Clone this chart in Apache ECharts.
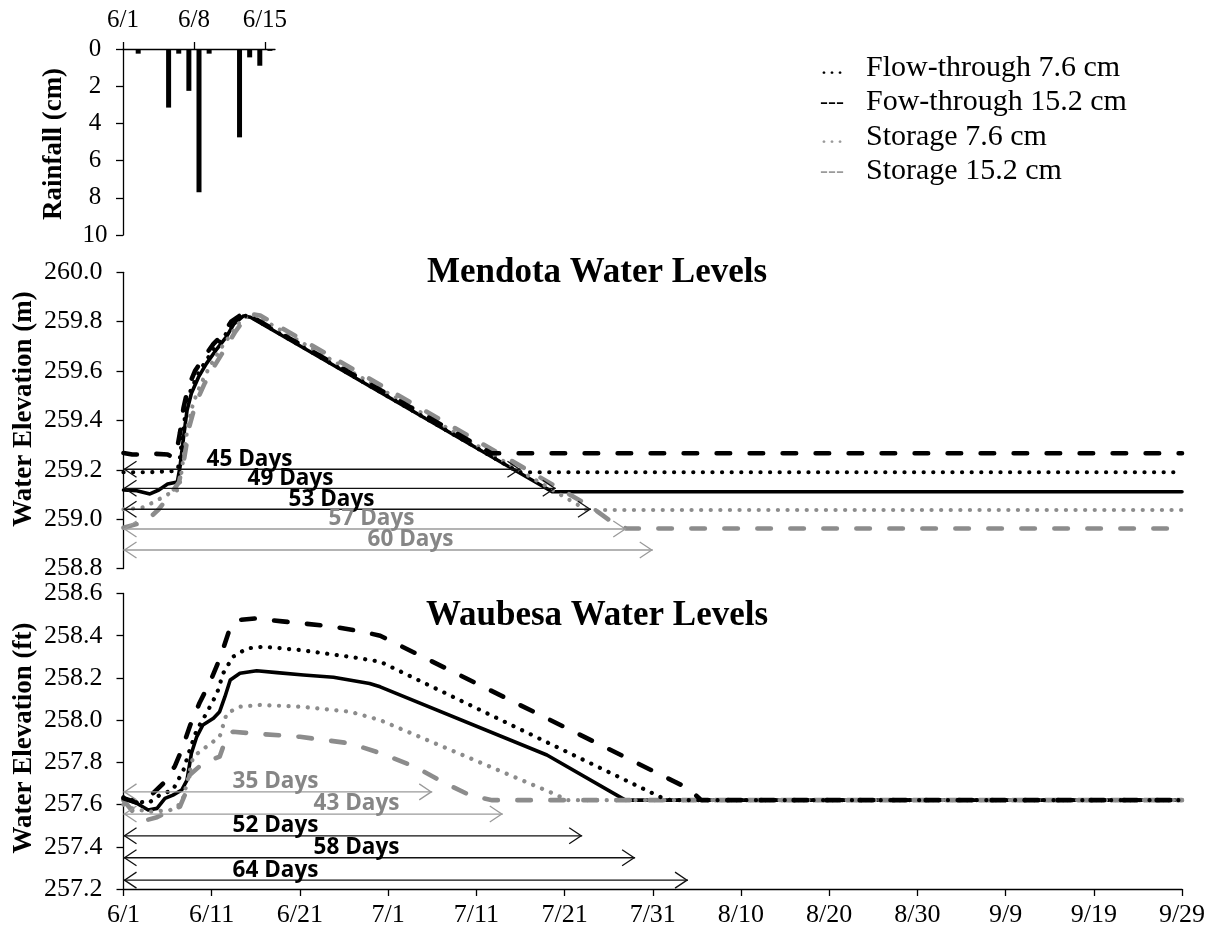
<!DOCTYPE html>
<html>
<head>
<meta charset="utf-8">
<script src="https://cdn.jsdelivr.net/npm/echarts@6/dist/echarts.min.js"></script>
<style>
  html, body { margin: 0; padding: 0; background: #fff; }
  #chart { width: 1215px; height: 934px; }
</style>
</head>
<body>
<div id="chart"></div>
<script>
// ---- Rainfall, 6/1 to 6/15 (cm per day) ----
const rainDates = ['6/1','6/2','6/3','6/4','6/5','6/6','6/7','6/8','6/9','6/10','6/11','6/12','6/13','6/14','6/15'];
const rainCm = [0, 0.25, 0.05, 0, 3.15, 0.25, 2.25, 7.7, 0.25, 0, 0, 4.75, 0.45, 0.9, 0.1];
const rainTickDays = [0, 7, 14];

// ---- Season axis: days after 6/1, labelled every 10 days ----
const seasonTicks = ['6/1','6/11','6/21','7/1','7/11','7/21','7/31','8/10','8/20','8/30','9/9','9/19','9/29'];

// ---- Legend entries ----
const legendNames = ['Flow-through 7.6 cm', 'Fow-through 15.2 cm', 'Storage 7.6 cm', 'Storage 15.2 cm'];

// ---- Lake Mendota water level (m) as [day after 6/1, elevation] ----
const mendotaBase = [[0,259.118],[1.5,259.115],[3,259.102],[4,259.118],[5,259.142],[6.1,259.15],[6.4,259.21],[6.8,259.33],[7.2,259.44],[7.7,259.51],[8.5,259.575],[9.4,259.63],[10.6,259.69],[11.7,259.74],[12.5,259.79],[13.6,259.823],[14.4,259.818],[48.6,259.111],[120,259.111]];
const mendotaFlow76 = [[0,259.19],[3,259.19],[6,259.195],[6.3,259.22],[6.7,259.34],[7.1,259.45],[7.6,259.52],[8.4,259.585],[9.3,259.64],[10.5,259.70],[11.6,259.75],[12.4,259.795],[13.5,259.826],[14.4,259.82],[44.8,259.19],[120,259.19]];
const mendotaFlow152 = [[0,259.268],[1,259.262],[2,259.262],[3.5,259.265],[5,259.262],[5.6,259.25],[6.0,259.27],[6.4,259.35],[6.8,259.45],[7.3,259.53],[8.1,259.6],[9,259.65],[10.2,259.71],[11.3,259.75],[12.2,259.8],[13.4,259.83],[14.4,259.822],[41.7,259.267],[120,259.267]];
const mendotaStore76 = [[0,259.04],[2,259.045],[3.5,259.07],[5,259.1],[6.3,259.12],[6.8,259.25],[7.3,259.38],[7.9,259.47],[8.8,259.55],[9.8,259.62],[11,259.69],[12.2,259.75],[13.2,259.8],[14.2,259.828],[15,259.825],[52.5,259.037],[120,259.037]];
const mendotaStore152 = [[0,258.965],[2.5,258.99],[4,259.04],[5.3,259.1],[6.3,259.15],[6.9,259.25],[7.5,259.38],[8.2,259.47],[9.2,259.55],[10.3,259.62],[11.5,259.69],[12.6,259.755],[13.6,259.805],[14.6,259.83],[15.5,259.825],[53,259.05],[55.5,258.985],[57,258.962],[120,258.962]];

// ---- Lake Waubesa water level (ft axis) ----
const waubesaBase = [[0,257.63],[1.5,257.606],[2.8,257.574],[3.8,257.582],[4.7,257.629],[5.6,257.645],[6.6,257.669],[7.2,257.716],[7.7,257.843],[8.3,257.921],[9,257.977],[10.2,258.009],[10.9,258.04],[11.5,258.111],[12.1,258.19],[13.2,258.222],[15.1,258.234],[17.4,258.225],[20.4,258.214],[23.8,258.203],[27.9,258.174],[29.1,258.158],[48,257.835],[56.9,257.621],[120,257.621]];
const waubesaFlow76 = [[0,257.635],[1.9,257.613],[2.8,257.606],[4.1,257.645],[5.6,257.669],[6.8,257.764],[7.5,257.858],[8.3,257.953],[9.4,258.032],[10.6,258.127],[11.3,258.222],[12.4,258.30],[14,258.34],[15.9,258.348],[20,258.332],[25.7,258.30],[29.1,258.277],[60.8,257.637],[62,257.621],[120,257.621]];
const waubesaFlow152 = [[0,257.63],[1.5,257.61],[3,257.64],[4.5,257.70],[5.8,257.78],[6.6,257.86],[7.6,257.98],[8.6,258.08],[9.8,258.18],[11,258.3],[12.1,258.44],[13.2,258.475],[15,258.482],[18,258.468],[23.8,258.443],[27,258.42],[29.1,258.40],[64,257.677],[65.5,257.621],[120,257.621]];
const waubesaStore76 = [[0,257.6],[1.1,257.58],[3,257.566],[5.3,257.574],[6.6,257.606],[7.3,257.72],[7.9,257.827],[9.4,257.874],[10.9,257.921],[11.7,258.032],[13.2,258.064],[15.5,258.072],[20,258.064],[25.7,258.04],[29.1,258.0],[48.7,257.653],[50.3,257.621],[120,257.621]];
const waubesaStore152 = [[0,257.62],[1.2,257.56],[2.5,257.525],[3.8,257.54],[5,257.565],[6.4,257.59],[7,257.65],[7.5,257.74],[9,257.795],[10.9,257.827],[11.7,257.921],[12.4,257.945],[14.7,257.937],[20,257.921],[25.7,257.89],[29.1,257.844],[33,257.78],[36.5,257.70],[39.5,257.64],[41.8,257.621],[120,257.621]];

// ---- Recession periods: length in days, level where the span is drawn, scenario group ----
const mendotaSpanDays = [45, 49, 53, 57, 60];
const mendotaSpanLevel = [259.202, 259.125, 259.04, 258.96, 258.875];
const mendotaSpanGroup = ['flow', 'flow', 'flow', 'storage', 'storage'];
const waubesaSpanDays = [35, 43, 52, 58, 64];
const waubesaSpanLevel = [257.66, 257.555, 257.452, 257.348, 257.242];
const waubesaSpanGroup = ['storage', 'storage', 'flow', 'flow', 'flow'];

// ---- Styling ----
const serif = "'Liberation Serif', 'Times New Roman', serif";
const sans = "'Open Sans', 'Liberation Sans', sans-serif";
const BLACK = '#000000';
const GREY = '#8c8c8c';
const SPAN_GREY = '#9a9a9a';

function lineSeries(name, data, axis, color, kind, z) {
  const style = { color: color, width: 3.6, type: 'solid', cap: 'round', join: 'round' };
  if (kind === 'dot') { style.width = 4.2; style.type = [0.1, 9.5]; }
  if (kind === 'dash') { style.width = 4.6; style.type = [13.5, 19.5]; }
  return {
    name: name, type: 'line', data: data,
    xAxisIndex: axis, yAxisIndex: axis,
    showSymbol: false, symbol: 'none', smooth: false,
    lineStyle: style, z: z, silent: true
  };
}

function spanSeries(days, levels, groups, axis, labelShift) {
  return {
    type: 'custom', xAxisIndex: axis, yAxisIndex: axis, z: 10, silent: true,
    data: days.map((d, i) => [d, levels[i], i]),
    renderItem: function (params, api) {
      const i = api.value(2);
      const a = api.coord([0, api.value(1)]);
      const b = api.coord([api.value(0), api.value(1)]);
      const isFlow = groups[i] === 'flow';
      const stroke = isFlow ? '#111' : SPAN_GREY;
      const txt = isFlow ? '#000' : '#868686';
      const hw = 13, hh = 8;
      return {
        type: 'group',
        children: [
          { type: 'line', shape: { x1: a[0], y1: a[1], x2: b[0], y2: b[1] },
            style: { stroke: stroke, lineWidth: 1.3 } },
          { type: 'polyline', shape: { points: [[a[0] + hw, a[1] - hh], [a[0] + 1, a[1]], [a[0] + hw, a[1] + hh]] },
            style: { stroke: stroke, fill: null, lineWidth: 1.3 } },
          { type: 'polyline', shape: { points: [[b[0] - hw, b[1] - hh], [b[0] - 1, b[1]], [b[0] - hw, b[1] + hh]] },
            style: { stroke: stroke, fill: null, lineWidth: 1.3 } },
          { type: 'text', x: a[0] + labelShift[i], y: a[1] - 10,
            style: { text: api.value(0) + ' Days', fill: txt, fontFamily: sans, fontWeight: 'bold', fontSize: 22.5,
                     align: 'center', verticalAlign: 'middle' } }
        ]
      };
    }
  };
}

const legendGraphics = [];
const legendMarks = ['\u2026', '---', '\u2026', '---'];
const legendColors = [BLACK, BLACK, '#9a9a9a', '#9a9a9a'];
legendNames.forEach((name, i) => {
  const y = 68 + i * 34.5;
  legendGraphics.push({ type: 'text', x: 832, y: y,
    style: { text: legendMarks[i], fill: legendColors[i], fontFamily: serif, fontSize: 24, align: 'center', verticalAlign: 'middle' } });
  legendGraphics.push({ type: 'text', x: 866, y: y,
    style: { text: name, fill: '#000', fontFamily: serif, fontSize: 30, align: 'left', verticalAlign: 'middle' } });
});

const tickLabel = { fontFamily: serif, fontSize: 26, color: '#000' };
const axisLine = { show: true, onZero: false, lineStyle: { color: '#000', width: 1.3 } };
const axisTick = { show: true, inside: false, length: 7, lineStyle: { color: '#000', width: 1.3 } };

const option = {
  animation: false,
  backgroundColor: '#fff',
  grid: [
    { left: 123, top: 49, width: 152, height: 186, outerBoundsMode: 'none' },
    { left: 123.5, top: 272.3, right: 33, height: 296.2, outerBoundsMode: 'none' },
    { left: 123.5, top: 593.5, right: 33, height: 295.5, outerBoundsMode: 'none' }
  ],
  xAxis: [
    { gridIndex: 0, type: 'value', position: 'top', min: 0, max: 15,
      axisLine: axisLine,
      axisTick: Object.assign({}, axisTick, { customValues: rainTickDays }),
      axisLabel: Object.assign({}, tickLabel, { fontSize: 25, margin: 16, customValues: rainTickDays,
        formatter: v => rainDates[Math.round(v)] }),
      splitLine: { show: false } },
    { gridIndex: 1, type: 'value', min: 0, max: 120, interval: 10, show: false, splitLine: { show: false } },
    { gridIndex: 2, type: 'value', min: 0, max: 120, interval: 10,
      axisLine: axisLine, axisTick: axisTick,
      axisLabel: Object.assign({}, tickLabel, { margin: 13, formatter: v => seasonTicks[Math.round(v / 10)] }),
      splitLine: { show: false } }
  ],
  yAxis: [
    { gridIndex: 0, type: 'value', inverse: true, min: 0, max: 10, interval: 2,
      axisLine: axisLine, axisTick: axisTick,
      axisLabel: Object.assign({}, tickLabel, { fontSize: 25, margin: 28, align: 'center' }),
      splitLine: { show: false } },
    { gridIndex: 1, type: 'value', min: 258.8, max: 260, interval: 0.2,
      axisLine: axisLine, axisTick: axisTick,
      axisLabel: Object.assign({}, tickLabel, { margin: 21, formatter: v => v.toFixed(1) }),
      splitLine: { show: false } },
    { gridIndex: 2, type: 'value', min: 257.2, max: 258.6, interval: 0.2,
      axisLine: axisLine, axisTick: axisTick,
      axisLabel: Object.assign({}, tickLabel, { margin: 21, formatter: v => v.toFixed(1) }),
      splitLine: { show: false } }
  ],
  graphic: [
    { type: 'text', x: 597, y: 273,
      style: { text: 'Mendota Water Levels', fill: '#000', fontFamily: serif, fontWeight: 'bold', fontSize: 35, align: 'center', verticalAlign: 'middle' } },
    { type: 'text', x: 597, y: 616,
      style: { text: 'Waubesa Water Levels', fill: '#000', fontFamily: serif, fontWeight: 'bold', fontSize: 35, align: 'center', verticalAlign: 'middle' } },
    { type: 'text', x: 24, y: 409, rotation: Math.PI / 2,
      style: { text: 'Water Elevation (m)', fill: '#000', fontFamily: serif, fontWeight: 'bold', fontSize: 27, align: 'center', verticalAlign: 'middle' } },
    { type: 'text', x: 24, y: 738, rotation: Math.PI / 2,
      style: { text: 'Water Elevation (ft)', fill: '#000', fontFamily: serif, fontWeight: 'bold', fontSize: 27, align: 'center', verticalAlign: 'middle' } },
    { type: 'text', x: 54, y: 144, rotation: Math.PI / 2,
      style: { text: 'Rainfall (cm)', fill: '#000', fontFamily: serif, fontWeight: 'bold', fontSize: 27, align: 'center', verticalAlign: 'middle' } }
  ].concat(legendGraphics),
  series: [
    { name: 'Rainfall', type: 'bar', xAxisIndex: 0, yAxisIndex: 0, barWidth: 5, silent: true,
      itemStyle: { color: '#000' },
      data: rainCm.map((v, i) => [i + 0.5, v]) },

    lineSeries('Base', mendotaBase, 1, BLACK, 'solid', 2),
    lineSeries(legendNames[2], mendotaStore76, 1, GREY, 'dot', 3),
    lineSeries(legendNames[3], mendotaStore152, 1, GREY, 'dash', 4),
    lineSeries(legendNames[0], mendotaFlow76, 1, BLACK, 'dot', 5),
    lineSeries(legendNames[1], mendotaFlow152, 1, BLACK, 'dash', 6),
    spanSeries(mendotaSpanDays, mendotaSpanLevel, mendotaSpanGroup, 1, [126, 167, 208, 248, 287]),

    lineSeries('Base', waubesaBase, 2, BLACK, 'solid', 2),
    lineSeries(legendNames[2], waubesaStore76, 2, GREY, 'dot', 3),
    lineSeries(legendNames[3], waubesaStore152, 2, GREY, 'dash', 4),
    lineSeries(legendNames[0], waubesaFlow76, 2, BLACK, 'dot', 5),
    lineSeries(legendNames[1], waubesaFlow152, 2, BLACK, 'dash', 6),
    spanSeries(waubesaSpanDays, waubesaSpanLevel, waubesaSpanGroup, 2, [152, 233, 152, 233, 152])
  ]
};

const chart = echarts.init(document.getElementById('chart'), null, { renderer: 'canvas' });
chart.setOption(option);
</script>
</body>
</html>
